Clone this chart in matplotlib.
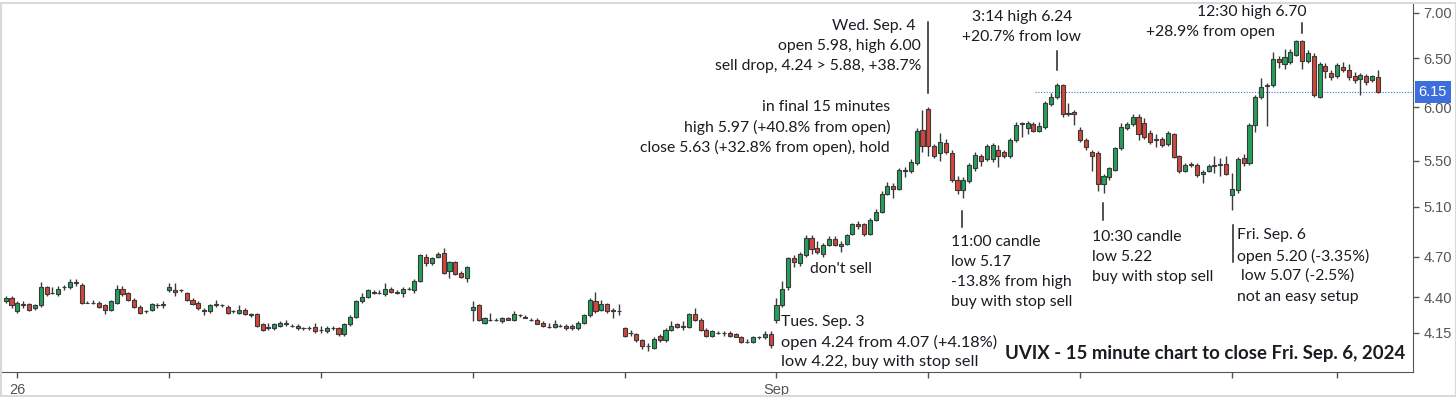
import numpy as np
import matplotlib
matplotlib.use('Agg')
import matplotlib.pyplot as plt
from matplotlib.lines import Line2D
from matplotlib.patches import Rectangle

# 15-minute UVIX candles, Aug 23 (last 2 bars) .. Fri Sep 6, 2024
opens = [
    4.37, 4.39,
    # Aug 26
    4.30, 4.35, 4.35, 4.32, 4.34, 4.47, 4.43, 4.42, 4.47, 4.47, 4.51, 4.49, 4.36,
    4.36, 4.36, 4.34, 4.31, 4.36, 4.46, 4.43, 4.38, 4.33, 4.30, 4.31, 4.34, 4.34,
    # Aug 27
    4.45, 4.45, 4.45, 4.43, 4.38, 4.36, 4.31, 4.30, 4.35, 4.34, 4.33, 4.30, 4.29,
    4.31, 4.28, 4.28, 4.21, 4.18, 4.18, 4.20, 4.22, 4.20, 4.20, 4.18, 4.18, 4.19,
    # Aug 28
    4.17, 4.16, 4.18, 4.18, 4.14, 4.21, 4.26, 4.37, 4.40, 4.44, 4.43, 4.42, 4.46,
    4.44, 4.43, 4.46, 4.45, 4.52, 4.70, 4.65, 4.70, 4.73, 4.59, 4.66, 4.58, 4.54,
    # Aug 29
    4.31, 4.34, 4.22, 4.24, 4.24, 4.23, 4.25, 4.24, 4.27, 4.26, 4.24, 4.24, 4.22,
    4.19, 4.19, 4.20, 4.20, 4.20, 4.18, 4.22, 4.27, 4.37, 4.31, 4.35, 4.31, 4.30,
    # Aug 30
    4.18, 4.15, 4.14, 4.10, 4.06, 4.05, 4.13, 4.10, 4.17, 4.21, 4.20, 4.19, 4.28,
    4.24, 4.17, 4.13, 4.15, 4.15, 4.15, 4.14, 4.12, 4.09, 4.09, 4.12, 4.12, 4.14,
    # Sep 3
    4.24, 4.34, 4.47, 4.69, 4.65, 4.71, 4.85, 4.77, 4.72, 4.79, 4.84, 4.78, 4.80,
    4.88, 4.96, 4.96, 4.88, 4.99, 5.06, 5.21, 5.28, 5.25, 5.42, 5.41, 5.48, 5.78,
    # Sep 4
    5.98, 5.63, 5.57, 5.66, 5.57, 5.33, 5.24, 5.32, 5.43, 5.54, 5.51, 5.51, 5.60,
    5.58, 5.54, 5.69, 5.84, 5.80, 5.84, 5.77, 5.81, 6.03, 6.10, 6.22, 5.94, 5.95,
    # Sep 5
    5.78, 5.69, 5.58, 5.57, 5.29, 5.35, 5.42, 5.61, 5.80, 5.84, 5.91, 5.85, 5.75,
    5.70, 5.70, 5.65, 5.74, 5.54, 5.41, 5.47, 5.46, 5.38, 5.41, 5.45, 5.46, 5.47,
    # Sep 6
    5.20, 5.24, 5.52, 5.48, 5.83, 6.10, 6.21, 6.22, 6.49, 6.44, 6.46, 6.54, 6.69,
    6.47, 6.53, 6.10, 6.42, 6.35, 6.31, 6.41, 6.38, 6.32, 6.28, 6.32, 6.27, 6.30,
]
highs = [
    4.41, 4.41,
    4.37, 4.37, 4.36, 4.35, 4.51, 4.48, 4.47, 4.48, 4.49, 4.53, 4.53, 4.50, 4.37,
    4.38, 4.37, 4.35, 4.38, 4.49, 4.48, 4.44, 4.39, 4.34, 4.31, 4.36, 4.36, 4.37,
    4.50, 4.50, 4.46, 4.44, 4.39, 4.37, 4.32, 4.35, 4.38, 4.35, 4.34, 4.31, 4.34,
    4.32, 4.29, 4.29, 4.22, 4.22, 4.22, 4.23, 4.24, 4.21, 4.21, 4.19, 4.20, 4.22,
    4.20, 4.20, 4.20, 4.19, 4.22, 4.27, 4.38, 4.43, 4.46, 4.45, 4.45, 4.50, 4.47,
    4.45, 4.47, 4.47, 4.53, 4.72, 4.72, 4.70, 4.74, 4.77, 4.67, 4.67, 4.59, 4.63,
    4.37, 4.35, 4.26, 4.29, 4.25, 4.26, 4.26, 4.30, 4.28, 4.27, 4.25, 4.25, 4.23,
    4.22, 4.24, 4.21, 4.21, 4.21, 4.23, 4.28, 4.39, 4.44, 4.38, 4.36, 4.32, 4.35,
    4.19, 4.17, 4.15, 4.11, 4.08, 4.12, 4.14, 4.18, 4.23, 4.22, 4.23, 4.29, 4.32,
    4.25, 4.18, 4.17, 4.16, 4.16, 4.16, 4.15, 4.13, 4.11, 4.13, 4.13, 4.16, 4.16,
    4.39, 4.52, 4.70, 4.71, 4.74, 4.87, 4.87, 4.82, 4.81, 4.86, 4.86, 4.82, 4.88,
    4.97, 4.98, 4.97, 5.01, 5.08, 5.23, 5.31, 5.30, 5.43, 5.44, 5.51, 5.80, 5.97,
    6.00, 5.65, 5.75, 5.70, 5.60, 5.36, 5.35, 5.48, 5.58, 5.56, 5.65, 5.66, 5.64,
    5.60, 5.71, 5.86, 5.86, 5.87, 5.86, 5.86, 6.06, 6.14, 6.24, 6.23, 6.04, 5.97,
    5.81, 5.71, 5.60, 5.59, 5.38, 5.44, 5.62, 5.85, 5.86, 5.93, 5.93, 5.90, 5.78,
    5.74, 5.72, 5.77, 5.75, 5.55, 5.48, 5.49, 5.48, 5.42, 5.47, 5.54, 5.52, 5.54,
    5.39, 5.53, 5.56, 5.85, 6.12, 6.29, 6.24, 6.57, 6.52, 6.60, 6.60, 6.70, 6.70,
    6.59, 6.56, 6.46, 6.45, 6.38, 6.45, 6.46, 6.44, 6.36, 6.35, 6.34, 6.33, 6.38,
]
lows = [
    4.36, 4.32,
    4.29, 4.32, 4.30, 4.31, 4.33, 4.41, 4.42, 4.41, 4.45, 4.46, 4.48, 4.35, 4.355,
    4.35, 4.32, 4.28, 4.30, 4.35, 4.41, 4.37, 4.32, 4.28, 4.29, 4.30, 4.32, 4.32,
    4.44, 4.41, 4.44, 4.37, 4.34, 4.31, 4.27, 4.29, 4.33, 4.33, 4.28, 4.29, 4.28,
    4.27, 4.26, 4.19, 4.16, 4.17, 4.17, 4.19, 4.20, 4.19, 4.17, 4.17, 4.17, 4.15,
    4.15, 4.15, 4.17, 4.13, 4.13, 4.20, 4.25, 4.36, 4.39, 4.42, 4.42, 4.41, 4.43,
    4.42, 4.40, 4.45, 4.43, 4.51, 4.63, 4.64, 4.69, 4.57, 4.54, 4.56, 4.54, 4.51,
    4.23, 4.23, 4.21, 4.23, 4.23, 4.22, 4.24, 4.23, 4.26, 4.25, 4.23, 4.21, 4.19,
    4.18, 4.18, 4.19, 4.17, 4.17, 4.17, 4.21, 4.26, 4.29, 4.30, 4.29, 4.25, 4.27,
    4.12, 4.13, 4.09, 4.04, 4.03, 4.04, 4.09, 4.09, 4.16, 4.18, 4.17, 4.18, 4.23,
    4.16, 4.12, 4.12, 4.14, 4.13, 4.12, 4.12, 4.08, 4.08, 4.08, 4.11, 4.11, 4.05,
    4.22, 4.33, 4.45, 4.62, 4.63, 4.70, 4.72, 4.72, 4.70, 4.78, 4.78, 4.74, 4.79,
    4.87, 4.92, 4.86, 4.87, 4.98, 5.05, 5.20, 5.17, 5.24, 5.35, 5.39, 5.46, 5.58,
    5.54, 5.52, 5.50, 5.56, 5.31, 5.21, 5.17, 5.30, 5.41, 5.45, 5.50, 5.49, 5.44,
    5.52, 5.52, 5.67, 5.72, 5.74, 5.76, 5.76, 5.79, 6.01, 6.08, 5.91, 5.92, 5.83,
    5.67, 5.60, 5.41, 5.23, 5.22, 5.33, 5.41, 5.60, 5.78, 5.82, 5.69, 5.70, 5.65,
    5.62, 5.62, 5.63, 5.52, 5.39, 5.40, 5.44, 5.35, 5.30, 5.40, 5.39, 5.36, 5.37,
    5.07, 5.22, 5.45, 5.46, 5.76, 6.08, 5.82, 6.20, 6.40, 6.39, 6.44, 6.52, 6.39,
    6.45, 6.10, 6.09, 6.29, 6.27, 6.29, 6.36, 6.27, 6.24, 6.12, 6.22, 6.25, 6.14,
]
closes = [
    4.39, 4.34,
    4.36, 4.34, 4.31, 4.34, 4.47, 4.42, 4.43, 4.46, 4.47, 4.51, 4.50, 4.36, 4.36,
    4.36, 4.33, 4.31, 4.37, 4.46, 4.42, 4.38, 4.33, 4.29, 4.30, 4.35, 4.345, 4.35,
    4.47, 4.44, 4.45, 4.38, 4.35, 4.32, 4.30, 4.34, 4.34, 4.34, 4.29, 4.30, 4.31,
    4.28, 4.27, 4.20, 4.17, 4.19, 4.21, 4.22, 4.21, 4.20, 4.18, 4.18, 4.18, 4.16,
    4.17, 4.18, 4.18, 4.14, 4.21, 4.26, 4.37, 4.40, 4.45, 4.43, 4.43, 4.46, 4.44,
    4.43, 4.46, 4.46, 4.52, 4.71, 4.65, 4.69, 4.72, 4.58, 4.66, 4.57, 4.55, 4.62,
    4.33, 4.24, 4.25, 4.24, 4.24, 4.25, 4.24, 4.28, 4.27, 4.25, 4.24, 4.21, 4.20,
    4.19, 4.21, 4.20, 4.18, 4.18, 4.22, 4.27, 4.38, 4.30, 4.35, 4.30, 4.30, 4.30,
    4.13, 4.15, 4.10, 4.06, 4.06, 4.11, 4.10, 4.17, 4.20, 4.19, 4.19, 4.28, 4.24,
    4.17, 4.13, 4.16, 4.15, 4.15, 4.13, 4.12, 4.09, 4.09, 4.12, 4.12, 4.14, 4.07,
    4.34, 4.46, 4.69, 4.66, 4.72, 4.85, 4.76, 4.74, 4.79, 4.84, 4.79, 4.80, 4.87,
    4.96, 4.94, 4.88, 4.99, 5.06, 5.21, 5.28, 5.25, 5.42, 5.41, 5.49, 5.77, 5.63,
    5.63, 5.54, 5.67, 5.58, 5.33, 5.24, 5.33, 5.46, 5.55, 5.50, 5.63, 5.64, 5.54,
    5.54, 5.69, 5.83, 5.85, 5.85, 5.77, 5.82, 6.04, 6.10, 6.22, 5.93, 5.93, 5.93,
    5.69, 5.62, 5.54, 5.29, 5.36, 5.43, 5.61, 5.81, 5.84, 5.91, 5.74, 5.72, 5.67,
    5.69, 5.64, 5.75, 5.53, 5.41, 5.46, 5.46, 5.37, 5.40, 5.45, 5.46, 5.47, 5.38,
    5.25, 5.51, 5.48, 5.83, 6.10, 6.20, 6.22, 6.49, 6.46, 6.51, 6.57, 6.69, 6.47,
    6.56, 6.12, 6.44, 6.37, 6.30, 6.43, 6.38, 6.30, 6.27, 6.33, 6.25, 6.31, 6.15,
]

tick_bars = [2, 28, 54, 80, 106, 132, 158, 184, 210, 228]
tick_labels = ['26', '', '', '', '', 'Sep', '', '', '', '']
price_ticks = [4.15, 4.40, 4.70, 5.10, 5.50, 6.00, 6.50, 7.00]
last_price = 6.15

W, H = 1456, 397
fig = plt.figure(figsize=(W / 100, H / 100), dpi=100)
ax = fig.add_axes([1 / W, 25 / H, 1412 / W, 369 / H])

o = np.array(opens); h = np.array(highs); l = np.array(lows); c = np.array(closes)
x = np.arange(len(o))
up = c >= o
green, red, edge = '#23a05a', '#d2463b', '#3a3a3a'

ax.vlines(x, l, h, color=edge, lw=1, zorder=2)
body_lo = np.minimum(o, c)
body_h = np.abs(c - o)
ax.bar(x[up], body_h[up], bottom=body_lo[up], width=0.7, color=green,
       edgecolor=edge, lw=0.8, zorder=3)
ax.bar(x[~up], body_h[~up], bottom=body_lo[~up], width=0.7, color=red,
       edgecolor=edge, lw=0.8, zorder=3)

ax.set_yscale('log')
ax.set_ylim(3.893, 7.115)
ax.set_xlim(-0.8, 241)
ax.yaxis.tick_right()
ax.set_yticks(price_ticks)
ax.set_yticklabels(['%.2f' % p for p in price_ticks])
ax.yaxis.set_minor_locator(matplotlib.ticker.NullLocator())
ax.set_xticks(tick_bars)
ax.set_xticklabels(tick_labels)
ax.tick_params(axis='both', colors='#555555', labelsize=10.5, length=4, width=1,
               labelcolor='#555555')
ax.tick_params(axis='x', pad=4)
for lab in ax.get_xticklabels() + ax.get_yticklabels():
    lab.set_family('Liberation Sans')
ax.spines['top'].set_visible(False)
ax.spines['left'].set_color('#dddddd')
ax.spines['bottom'].set_color('#555555')
ax.spines['right'].set_color('#555555')

# last price line + label
ax.hlines(last_price, 176.3, 241, color='#3d6fdc', lw=0.8, linestyles=(0, (1, 1.5)), zorder=1)
ax.text(1.004, last_price, '%.2f' % last_price, transform=ax.get_yaxis_transform(),
        va='center', ha='left', color='white', fontsize=10.5, family='Liberation Sans',
        zorder=10, clip_on=False,
        bbox=dict(boxstyle='square,pad=0.28', facecolor='#3d6fdc', edgecolor='none'))

fig.patches.append(Rectangle((0.5 / W, 1.5 / H), 1 - 1 / W, 1 - 4 / H, transform=fig.transFigure,
                             fill=False, edgecolor='#d9d9d9', lw=1.5))

FONT = 'Lato'
tc = '#1c1a22'


def note(px, py, s, ha='left', size=11.3, **kw):
    fig.text(px / W, 1 - py / H, s, ha=ha, va='center', fontsize=size,
             family=FONT, color=tc, **kw)


def vline(px, y0, y1):
    fig.add_artist(Line2D([px / W, px / W], [1 - y0 / H, 1 - y1 / H], color='#222222', lw=1.1))


note(916, 26, 'Wed. Sep. 4', ha='right')
note(921, 46, 'open 5.98, high 6.00', ha='right')
note(921, 66, 'sell drop, 4.24 > 5.88, +38.7%', ha='right')
vline(928, 22, 93)

note(890, 107, 'in final 15 minutes', ha='right')
note(890, 127, 'high 5.97 (+40.8% from open)', ha='right')
note(890, 147, 'close 5.63 (+32.8% from open), hold', ha='right')

note(1022, 17, '3:14 high 6.24', ha='center')
note(1022, 37, '+20.7% from low', ha='center')
vline(1057, 51, 70)

note(1252, 12, '12:30 high 6.70', ha='center')
note(1210, 32, '+28.9% from open', ha='center')
vline(1302, 23, 33)

note(951, 242, '11:00 candle')
note(951, 262, 'low 5.17')
note(951, 282, '-13.8% from high')
note(951, 302, 'buy with stop sell')
vline(962, 211, 227)

note(1092, 237, '10:30 candle')
note(1092, 257, 'low 5.22')
note(1092, 277, 'buy with stop sell')
vline(1103, 203, 220)

note(1237, 235, 'Fri. Sep. 6')
note(1237, 256, 'open 5.20 (-3.35%)')
note(1241, 276, 'low 5.07 (-2.5%)')
note(1237, 297, 'not an easy setup')
vline(1233, 225, 262)

note(810, 269, "don't sell")

note(781, 322, 'Tues. Sep. 3')
note(781, 342, 'open 4.24 from 4.07 (+4.18%)', size=11.8)
note(781, 362, 'low 4.22, buy with stop sell', size=11.8)

note(1405, 354, 'UVIX - 15 minute chart to close Fri. Sep. 6, 2024', ha='right',
     size=13.4, weight='bold')

fig.savefig('out.png', dpi=100, facecolor='white')
